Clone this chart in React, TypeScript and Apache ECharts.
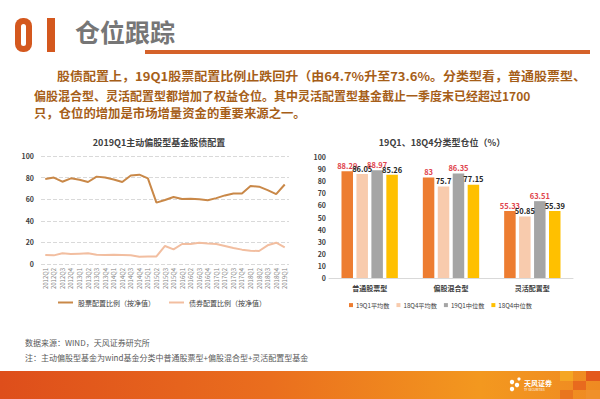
import React, { useEffect, useRef } from "react";
import * as echarts from "echarts";

const quarters = [
  "2012Q1", "2012Q2", "2012Q3", "2012Q4",
  "2013Q1", "2013Q2", "2013Q3", "2013Q4",
  "2014Q1", "2014Q2", "2014Q3", "2014Q4",
  "2015Q1", "2015Q2", "2015Q3", "2015Q4",
  "2016Q1", "2016Q2", "2016Q3", "2016Q4",
  "2017Q1", "2017Q2", "2017Q3", "2017Q4",
  "2018Q1", "2018Q2", "2018Q3", "2018Q4",
  "2019Q1",
];
const stockRatio = [
  78.7, 80, 76.2, 79.3, 78, 75.9, 80.9, 80, 78.2, 75.9,
  82, 82.7, 79.3, 56.8, 59.3, 62, 60.2, 60.5, 59.9, 59,
  61, 63.5, 65.3, 65.3, 72.2, 71.6, 68.4, 64.7, 73.6,
];
const bondRatio = [
  8.3, 8, 9.9, 9.3, 9.6, 9.9, 8.6, 8.3, 8.6, 8.3,
  8, 6.8, 7, 7, 16.7, 13.6, 18.5, 18.5, 19.7, 19,
  18.5, 16.7, 14.8, 13.3, 12.3, 12, 17.3, 19.7, 15.4,
];
const leftSeriesNames = ["股票配置比例（按净值）", "债券配置比例（按净值）"];

const fundTypes = ["普通股票型", "偏股混合型", "灵活配置型"];
const barSeriesNames = ["19Q1平均数", "18Q4平均数", "19Q1中位数", "18Q4中位数"];
const avg19Q1 = [88.29, 83, 55.33];
const avg18Q4 = [86.05, 75.7, 50.85];
const med19Q1 = [88.97, 86.35, 63.51];
const med18Q4 = [85.26, 77.15, 55.39];

const paragraphLines = [
  "股债配置上，19Q1股票配置比例止跌回升（由64.7%升至73.6%。分类型看，普通股票型、",
  "偏股混合型、灵活配置型都增加了权益仓位。其中灵活配置型基金截止一季度末已经超过1700",
  "只，仓位的增加是市场增量资金的重要来源之一。",
];

const FONT = "'Noto Sans CJK SC', 'Noto Sans', sans-serif";

export default function App() {
  const ref = useRef<HTMLDivElement>(null);

  useEffect(() => {
    if (!ref.current) return;
    const chart = echarts.init(ref.current, null, { renderer: "svg" });
    const barColors = ["#ED7D31", "#F8CBAD", "#A5A5A5", "#FFC000"];
    const labelColors = ["#E0444C", "#262626", "#E0444C", "#262626"];
    const barData = [avg19Q1, avg18Q4, med19Q1, med18Q4];

    const option: any = {
      animation: false,
      backgroundColor: "#ffffff",
      textStyle: { fontFamily: FONT },
      grid: [
        { left: 41, right: 311, top: 156, bottom: 135 },
        { left: 329, right: 27, top: 157, bottom: 121 },
      ],
      xAxis: [
        {
          type: "category",
          gridIndex: 0,
          data: quarters,
          boundaryGap: true,
          axisLine: { show: false },
          axisTick: { show: false },
          axisLabel: {
            rotate: 90,
            interval: 0,
            fontSize: 6,
            color: "#7F7F7F",
            margin: 4,
            fontFamily: FONT,
          },
        },
        {
          type: "category",
          gridIndex: 1,
          data: fundTypes,
          axisLine: { show: true, lineStyle: { color: "#D9D9D9" } },
          axisTick: { show: false },
          axisLabel: { fontSize: 7, fontWeight: "bold", color: "#404040", margin: 6, fontFamily: FONT },
        },
      ],
      yAxis: [
        {
          type: "value",
          gridIndex: 0,
          min: 0,
          max: 100,
          interval: 20,
          axisLine: { show: false },
          axisTick: { show: false },
          splitLine: { lineStyle: { color: "#D9D9D9", type: "dashed", width: 1 } },
          axisLabel: { fontSize: 7, fontWeight: "bold", color: "#404040", margin: 7, fontFamily: FONT },
        },
        {
          type: "value",
          gridIndex: 1,
          min: 0,
          max: 100,
          interval: 10,
          axisLine: { show: false },
          axisTick: { show: false },
          splitLine: { show: false },
          axisLabel: { fontSize: 7, fontWeight: "bold", color: "#404040", margin: 3, fontFamily: FONT },
        },
      ],
      legend: [
        {
          data: leftSeriesNames,
          left: 58,
          top: 299,
          padding: 0,
          icon: "rect",
          itemWidth: 15,
          itemHeight: 2,
          itemGap: 14,
          textStyle: { fontSize: 7, color: "#404040", fontFamily: FONT },
        },
        {
          data: barSeriesNames,
          left: 349,
          top: 302,
          padding: 0,
          icon: "rect",
          itemWidth: 4,
          itemHeight: 4,
          itemGap: 7,
          textStyle: { fontSize: 6.2, color: "#404040", fontFamily: FONT, padding: [0, 0, 0, -2] },
        },
      ],
      series: [
        {
          name: leftSeriesNames[0],
          type: "line",
          xAxisIndex: 0,
          yAxisIndex: 0,
          data: stockRatio,
          symbol: "none",
          lineStyle: { color: "#C98848", width: 2 },
          itemStyle: { color: "#C98848" },
        },
        {
          name: leftSeriesNames[1],
          type: "line",
          xAxisIndex: 0,
          yAxisIndex: 0,
          data: bondRatio,
          symbol: "none",
          lineStyle: { color: "#F2BEA0", width: 2 },
          itemStyle: { color: "#F2BEA0" },
        },
        ...barSeriesNames.map((name, i) => ({
          name,
          type: "bar",
          xAxisIndex: 1,
          yAxisIndex: 1,
          data: barData[i],
          barWidth: 11.5,
          barGap: "30%",
          itemStyle: { color: barColors[i] },
          label: {
            show: true,
            position: "top",
            distance: 2,
            fontSize: 7.5,
            fontWeight: "bold",
            color: labelColors[i],
            fontFamily: FONT,
          },
        })),
      ],
      graphic: [
        // header "01"
        { type: "rect", shape: { x: 15, y: 18, width: 17, height: 34, r: 8 }, style: { fill: "#D4581E" } },
        { type: "rect", shape: { x: 21, y: 24, width: 5, height: 22, r: 2.5 }, style: { fill: "#ffffff" } },
        { type: "rect", shape: { x: 47, y: 18, width: 8, height: 34 }, style: { fill: "#D4581E" } },
        {
          type: "text",
          x: 75,
          y: 31,
          style: {
            text: "仓位跟踪",
            font: `bold 25px ${FONT}`,
            fill: "#767676",
            textVerticalAlign: "middle",
          },
        },
        { type: "rect", shape: { x: 145, y: 50, width: 445, height: 4 }, style: { fill: "#D5622A" } },
        // paragraph
        {
          type: "text",
          x: 57,
          y: 76,
          scaleX: 1.085,
          style: { text: paragraphLines[0], font: `bold 12px ${FONT}`, fill: "#A65E18", textVerticalAlign: "middle" },
        },
        {
          type: "text",
          x: 34,
          y: 95,
          style: { text: paragraphLines[1], font: `bold 12px ${FONT}`, fill: "#A65E18", textVerticalAlign: "middle" },
        },
        {
          type: "text",
          x: 34,
          y: 113.5,
          scaleX: 1.03,
          style: { text: paragraphLines[2], font: `bold 12px ${FONT}`, fill: "#A65E18", textVerticalAlign: "middle" },
        },
        // chart titles
        {
          type: "text",
          x: 159,
          y: 142,
          style: {
            text: "2019Q1主动偏股型基金股债配置",
            font: `bold 9px ${FONT}`,
            fill: "#404040",
            textAlign: "center",
            textVerticalAlign: "middle",
          },
        },
        {
          type: "text",
          x: 442,
          y: 142,
          style: {
            text: "19Q1、18Q4分类型仓位（%）",
            font: `bold 9px ${FONT}`,
            fill: "#404040",
            textAlign: "center",
            textVerticalAlign: "middle",
          },
        },
        // footnotes
        {
          type: "text",
          x: 25,
          y: 342,
          style: { text: "数据来源：WIND，天风证券研究所", font: `8px ${FONT}`, fill: "#595959", textVerticalAlign: "middle" },
        },
        {
          type: "text",
          x: 25,
          y: 357,
          style: {
            text: "注：主动偏股型基金为wind基金分类中普通股票型+偏股混合型+灵活配置型基金",
            font: `8px ${FONT}`,
            fill: "#595959",
            textVerticalAlign: "middle",
          },
        },
        // footer band
        {
          type: "rect",
          shape: { x: 0, y: 371, width: 600, height: 28 },
          style: {
            fill: new echarts.graphic.LinearGradient(0, 0, 1, 0, [
              { offset: 0, color: "#DE4E1B" },
              { offset: 0.45, color: "#EA6E1E" },
              { offset: 0.8, color: "#F3981F" },
              { offset: 1, color: "#EF8A22" },
            ]),
          },
        },
        { type: "rect", shape: { x: 560, y: 371, width: 13, height: 10 }, style: { fill: "#F5A623" } },
        { type: "rect", shape: { x: 573, y: 381, width: 13, height: 9 }, style: { fill: "#E86A1E" } },
        { type: "rect", shape: { x: 586, y: 371, width: 14, height: 10 }, style: { fill: "#E3591C" } },
        { type: "rect", shape: { x: 560, y: 390, width: 13, height: 9 }, style: { fill: "#E9761F" } },
        { type: "rect", shape: { x: 586, y: 390, width: 14, height: 9 }, style: { fill: "#F0902A" } },
        // logo
        { type: "circle", shape: { cx: 512, cy: 382, r: 2.2 }, style: { fill: "#ffffff" } },
        { type: "circle", shape: { cx: 517, cy: 385, r: 2.2 }, style: { fill: "#ffffff" } },
        { type: "circle", shape: { cx: 512, cy: 389, r: 2.2 }, style: { fill: "#ffffff" } },
        { type: "circle", shape: { cx: 519, cy: 379, r: 1.6 }, style: { fill: "#ffffff" } },
        {
          type: "text",
          x: 524,
          y: 383,
          style: { text: "天风证券", font: `bold 7px ${FONT}`, fill: "#ffffff", textVerticalAlign: "middle" },
        },
        {
          type: "text",
          x: 524,
          y: 390,
          style: { text: "TF SECURITIES", font: `3px ${FONT}`, fill: "#ffffff", textVerticalAlign: "middle" },
        },
      ],
    };

    chart.setOption(option);
    return () => chart.dispose();
  }, []);

  return (
    <div
      ref={ref}
      style={{ position: "fixed", left: 0, top: 0, width: 600, height: 399, background: "#ffffff" }}
    />
  );
}
